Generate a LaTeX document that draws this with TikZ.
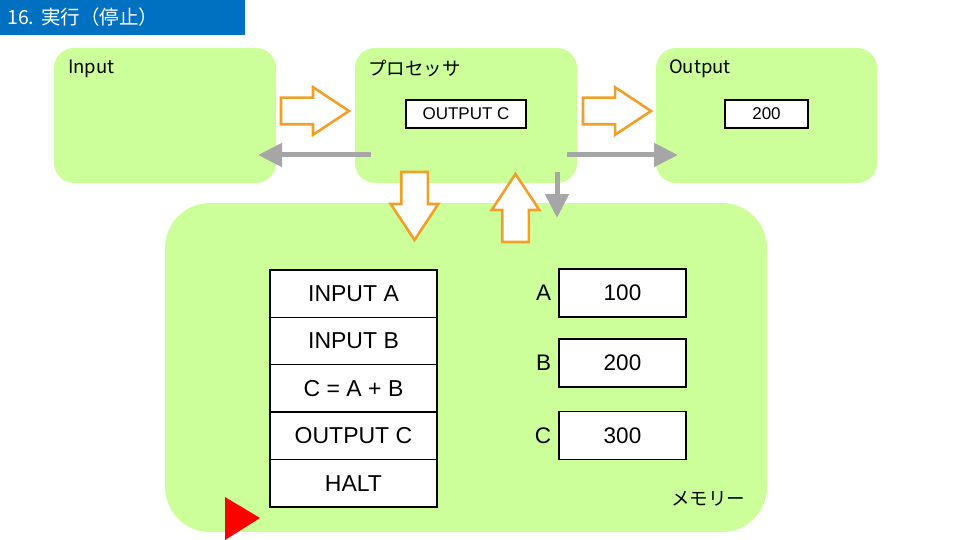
\documentclass[tikz,border=0pt]{standalone}
\usepackage{fontspec}
\setmainfont{Liberation Sans}
\newfontfamily\jpfont{Noto Sans CJK JP}
\usetikzlibrary{shapes.arrows, arrows.meta, positioning}

\definecolor{panelgreen}{RGB}{204,255,153}
\definecolor{titleblue}{RGB}{0,112,192}
\definecolor{flowgray}{RGB}{166,166,166}
\definecolor{busorange}{RGB}{240,160,40}

\begin{document}
\begin{tikzpicture}[
    x=1pt, y=-1pt,
    panel/.style={rectangle, fill=panelgreen, rounded corners=20pt, inner sep=0pt},
    tag/.style={anchor=west, inner sep=0pt, font=\jpfont\fontsize{18.5}{18.5}\selectfont},
    regbox/.style={rectangle, draw=black, line width=1.4pt, fill=white, inner sep=0pt, minimum height=28pt, font=\fontsize{17}{17}\selectfont},
    instr/.style={rectangle, draw=black, line width=1.4pt, fill=white, minimum width=167pt, minimum height=47.4pt, inner sep=0pt, outer sep=0pt, font=\fontsize{23}{23}\selectfont},
    cell/.style={rectangle, draw=black, line width=1.4pt, fill=white, minimum width=127pt, minimum height=48pt, inner sep=0pt, font=\fontsize{22.5}{22.5}\selectfont},
    cellname/.style={inner sep=0pt, font=\fontsize{22.5}{22.5}\selectfont},
    fatarrow/.style={single arrow, draw=busorange, line width=2.6pt, fill=white, minimum height=68pt, inner xsep=0pt, inner ysep=12pt, single arrow head extend=10.5pt, single arrow tip angle=67, outer sep=0pt, anchor=tail},
    flow/.style={draw=flowgray, line width=5pt, -{Triangle[length=24pt, width=23pt]}}
]
    \useasboundingbox (0,0) rectangle (960,540);

    % title bar
    \fill[titleblue] (0,0) rectangle (245,35);
    \node (title) [anchor=west, inner sep=0pt, text=white, font=\jpfont\fontsize{19.5}{19.5}\selectfont] at (7,17) {16.\hspace{7pt}実行（停止）};

    % panels
    \node (input) [panel, minimum width=222pt, minimum height=135pt] at (165,115.5) {};
    \node (cpu) [panel, minimum width=222pt, minimum height=135pt] at (466,115.5) {};
    \node (output) [panel, minimum width=221pt, minimum height=135pt] at (766.5,115.5) {};
    \node (memory) [panel, rounded corners=45pt, minimum width=602pt, minimum height=329pt] at (466,367.5) {};

    \node (inputTag) [tag] at (68,69) {Input};
    \node (cpuTag) [tag] at (368,69) {プロセッサ};
    \node (outputTag) [tag] at (669,69) {Output};
    \node (memTag) [tag] at (671,499) {メモリー};

    \node (cpuReg) [regbox, minimum width=120pt] at (466,114) {OUTPUT C};
    \node (outReg) [regbox, minimum width=83pt] at (766.5,114) {200};

    % program
    \node (prog1) [instr] at (353.5,293.5) {INPUT A};
    \node (prog2) [instr, below=0pt of prog1] {INPUT B};
    \node (prog3) [instr, below=0pt of prog2] {C = A + B};
    \node (prog4) [instr, below=0pt of prog3] {OUTPUT C};
    \node (prog5) [instr, below=0pt of prog4] {HALT};

    % data
    \node (cellA) [cell] at (622.5,293) {100};
    \node (cellB) [cell] at (622.5,363) {200};
    \node (cellC) [cell] at (622.5,435.5) {300};
    \node (nameA) [cellname, left=7pt of cellA] {A};
    \node (nameB) [cellname, left=7pt of cellB] {B};
    \node (nameC) [cellname, left=7pt of cellC] {C};

    % buses
    \node (busIn) [fatarrow] at (281,111) {};
    \node (busOut) [fatarrow] at (583,111) {};
    \node (busFetch) [fatarrow, rotate=-90] at (414.5,172) {};
    \node (busStore) [fatarrow, rotate=90] at (515.5,242) {};

    \coordinate (cpuW) at (371,155);
    \coordinate (inputE) at (258,155);
    \coordinate (cpuE) at (567,155);
    \coordinate (outputW) at (678,155);
    \coordinate (cpuS) at (557,172);
    \coordinate (memN) at (557,218);
    \draw [flow] (cpuW) -- (inputE);
    \draw [flow] (cpuE) -- (outputW);
    \draw [flow] (cpuS) -- (memN);

    \fill[red] (225,497) -- (225,540) -- (260,518) -- cycle;
\end{tikzpicture}
\end{document}
